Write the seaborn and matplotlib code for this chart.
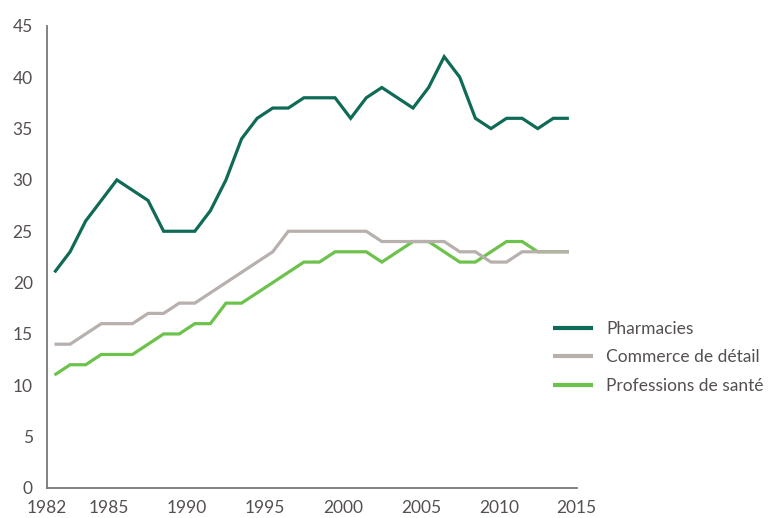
import matplotlib
matplotlib.use('Agg')
import matplotlib.pyplot as plt
import seaborn as sns
import pandas as pd

# ── data
years = list(range(1982, 2016))
pharmacies = [21, 23, 26, 28, 30, 29, 28, 25, 25, 25, 27, 30, 34, 36, 37, 37, 38,
              38, 38, 36, 38, 39, 38, 37, 39, 42, 40, 36, 35, 36, 36, 35, 36, 36]
commerce = [14, 14, 15, 16, 16, 16, 17, 17, 18, 18, 19, 20, 21, 22, 23, 25, 25,
            25, 25, 25, 25, 24, 24, 24, 24, 24, 23, 23, 22, 22, 23, 23, 23, 23]
sante = [11, 12, 12, 13, 13, 13, 14, 15, 15, 16, 16, 18, 18, 19, 20, 21, 22,
         22, 23, 23, 23, 22, 23, 24, 24, 23, 22, 22, 23, 24, 24, 23, 23, 23]

labels = ['Pharmacies', 'Commerce de détail', 'Professions de santé']
colors = ['#0f6b55', '#b7b0ad', '#6cc24a']
xtick_pos = [1981, 1985, 1990, 1995, 2000, 2005, 2010, 2015]
xtick_lab = ['1982', '1985', '1990', '1995', '2000', '2005', '2010', '2015']

sns.set_style('white')
plt.rcParams['font.family'] = ['Lato', 'DejaVu Sans']
txt = '#555050'

df = pd.DataFrame({'year': years, labels[0]: pharmacies,
                   labels[1]: commerce, labels[2]: sante})
# the source draws each year's point half a step to the left
df['x'] = df['year'] - 0.5

fig = plt.figure(figsize=(7.72, 5.18), dpi=100)
ax = fig.add_axes([0.0605, 0.058, 0.6865, 0.892])

# draw order: light green, grey, dark green on top
for lab, col in reversed(list(zip(labels, colors))):
    sns.lineplot(data=df, x='x', y=lab, ax=ax, color=col, linewidth=2.3,
                 label=lab, solid_joinstyle='miter', solid_capstyle='butt')

ax.set_xlim(1981, 2015)
ax.set_ylim(0, 45)
ax.set_xticks(xtick_pos)
ax.set_xticklabels(xtick_lab)
ax.set_yticks(range(0, 46, 5))
ax.set_xlabel('')
ax.set_ylabel('')

for s in ['top', 'right']:
    ax.spines[s].set_visible(False)
for s in ['left', 'bottom']:
    ax.spines[s].set_color('#7d7777')
    ax.spines[s].set_linewidth(1.3)
ax.tick_params(axis='both', colors='#7d7777', labelcolor=txt, labelsize=12.5,
               length=7, width=1.2, direction='out')
ax.tick_params(axis='x', pad=2)
ax.tick_params(axis='y', pad=3)
ax.grid(False)

handles, labs = ax.get_legend_handles_labels()
order = [labs.index(l) for l in labels]
leg = ax.legend([handles[i] for i in order], [labs[i] for i in order],
                loc='upper left', bbox_to_anchor=(553 / 772, 1 - 321 / 518),
                bbox_transform=fig.transFigure, frameon=False, fontsize=12.5,
                handlelength=2.3, handletextpad=0.75, labelspacing=0.72,
                borderpad=0, borderaxespad=0)
for t in leg.get_texts():
    t.set_color(txt)
for h in leg.get_lines():
    h.set_linewidth(3)
    h.set_solid_capstyle('butt')

plt.savefig('out.png', dpi=100)
plt.close()
